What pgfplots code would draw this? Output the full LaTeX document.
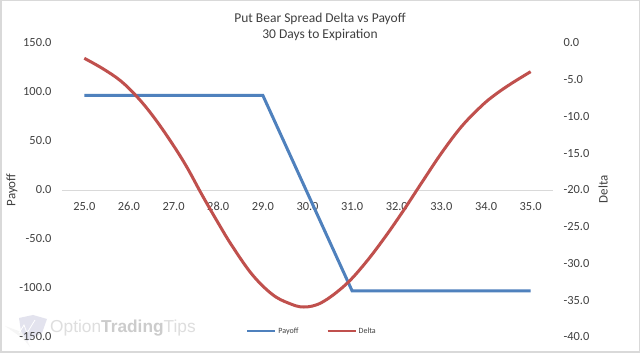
\documentclass[border=0pt]{standalone}
\usepackage{fontspec}
\setmainfont{Carlito}
\newfontfamily\wmfont{Liberation Sans}
\usepackage{pgfplots}
\pgfplotsset{compat=1.18}
\definecolor{txt}{HTML}{404040}
\definecolor{frame}{HTML}{D9D9D9}
\definecolor{pay}{HTML}{4F81BD}
\definecolor{del}{HTML}{C0504D}
\definecolor{wmicon}{HTML}{E3E3EE}
\pgfplotstableread{
x y
25 96.5
29 96.5
31 -103
35 -103
}\payoff
\pgfplotstableread{
x y
25.00 -2.08
25.40 -3.44
25.81 -5.13
26.18 -7.31
26.52 -9.80
26.89 -12.97
27.27 -16.6
27.64 -20.7
28.00 -24.5
28.31 -27.6
28.76 -31.5
29.21 -34.2
29.58 -35.4
29.92 -35.92
30.32 -35.3
30.85 -32.9
31.30 -29.9
31.75 -26.3
32.16 -22.7
32.57 -18.9
33.01 -14.9
33.46 -11.3
33.91 -8.5
34.21 -7.0
34.57 -5.5
35.00 -3.9
}\deltat
\pgfplotsset{
  base/.style={
    at={(62pt,16pt)}, anchor=south west, scale only axis,
    width=491pt, height=294pt,
    xmin=24.5, xmax=35.5,
    /pgf/number format/.cd, fixed, fixed zerofill, precision=1, assume math mode=true, /pgfplots/.cd,
    tick style={draw=none},
    tick label style={font=\fontsize{12.4}{14}\selectfont, text=txt},
    label style={font=\fontsize{13}{14}\selectfont, text=txt},
  }
}
\begin{document}
\begin{tikzpicture}[x=1pt,y=1pt]
\path[use as bounding box] (0,0) rectangle (640,353);
\fill[white] (0,0) rectangle (640,353);
\draw[frame,line width=1.5pt] (0.75,0.75) rectangle (639.25,352.25);
% watermark
\fill[black!4] (5,27) .. controls (15,20) and (25,14) .. (30,6) -- (24,20) -- cycle;
\fill[wmicon] (19,35) -- (33,38) -- (47,34) -- (42,20) -- (27,12) -- (21,22) -- cycle;
\draw[white,line width=0.8pt] (19,20) -- (24,28) -- (27,20) -- (35,33);
\node[anchor=west,inner sep=0pt,text=black!13,font=\wmfont\fontsize{17.3}{20}\selectfont] at (50,25) {Option\textcolor{black!20}{\textbf{Trading}}Tips};
\begin{axis}[base,
  axis x line=middle, axis y line*=left,
  x axis line style={draw=frame,-},
  y axis line style={draw=none},
  ymin=-150, ymax=150, ytick distance=50,
  xtick distance=1,
  xticklabel style={yshift=-6.5pt},
  yticklabel style={anchor=east, xshift=-7pt},
  ylabel={Payoff},
  ylabel style={at={(axis description cs:-0.102,0.5)},anchor=center,rotate=0},
  clip=false,
  title style={at={(0.5,1)},anchor=south,align=center,font=\fontsize{13.5}{16}\selectfont,text=txt,xshift=12.5pt,yshift=-7pt},
  title={Put Bear Spread Delta vs Payoff\\30 Days to Expiration},
  legend style={at={(250pt,6pt)},anchor=center,draw=none,fill=none,font=\fontsize{8}{9}\selectfont,text=txt,legend columns=2,/tikz/every even column/.append style={column sep=26pt}},
  legend cell align=left,
  legend image code/.code={\draw[#1] (0pt,0pt) -- (28pt,0pt);},
]
\addplot[pay,line width=3pt,forget plot] table[x=x,y=y] {\payoff};
\addlegendimage{pay,line width=2.2pt}\addlegendentry{Payoff}
\addlegendimage{del,line width=2.2pt}\addlegendentry{Delta}
\end{axis}
\begin{axis}[base,
  axis x line=none, axis y line*=right,
  y axis line style={draw=none},
  ymin=-40, ymax=0, ytick distance=5,
  yticklabel style={anchor=west, xshift=7pt},
  ylabel={Delta},
  ylabel style={at={(axis description cs:1.102,0.503)},anchor=center,rotate=0},
  clip=false,
]
\addplot[del,line width=3pt,smooth,tension=0.6] table[x=x,y=y] {\deltat};
\end{axis}
\end{tikzpicture}
\end{document}
